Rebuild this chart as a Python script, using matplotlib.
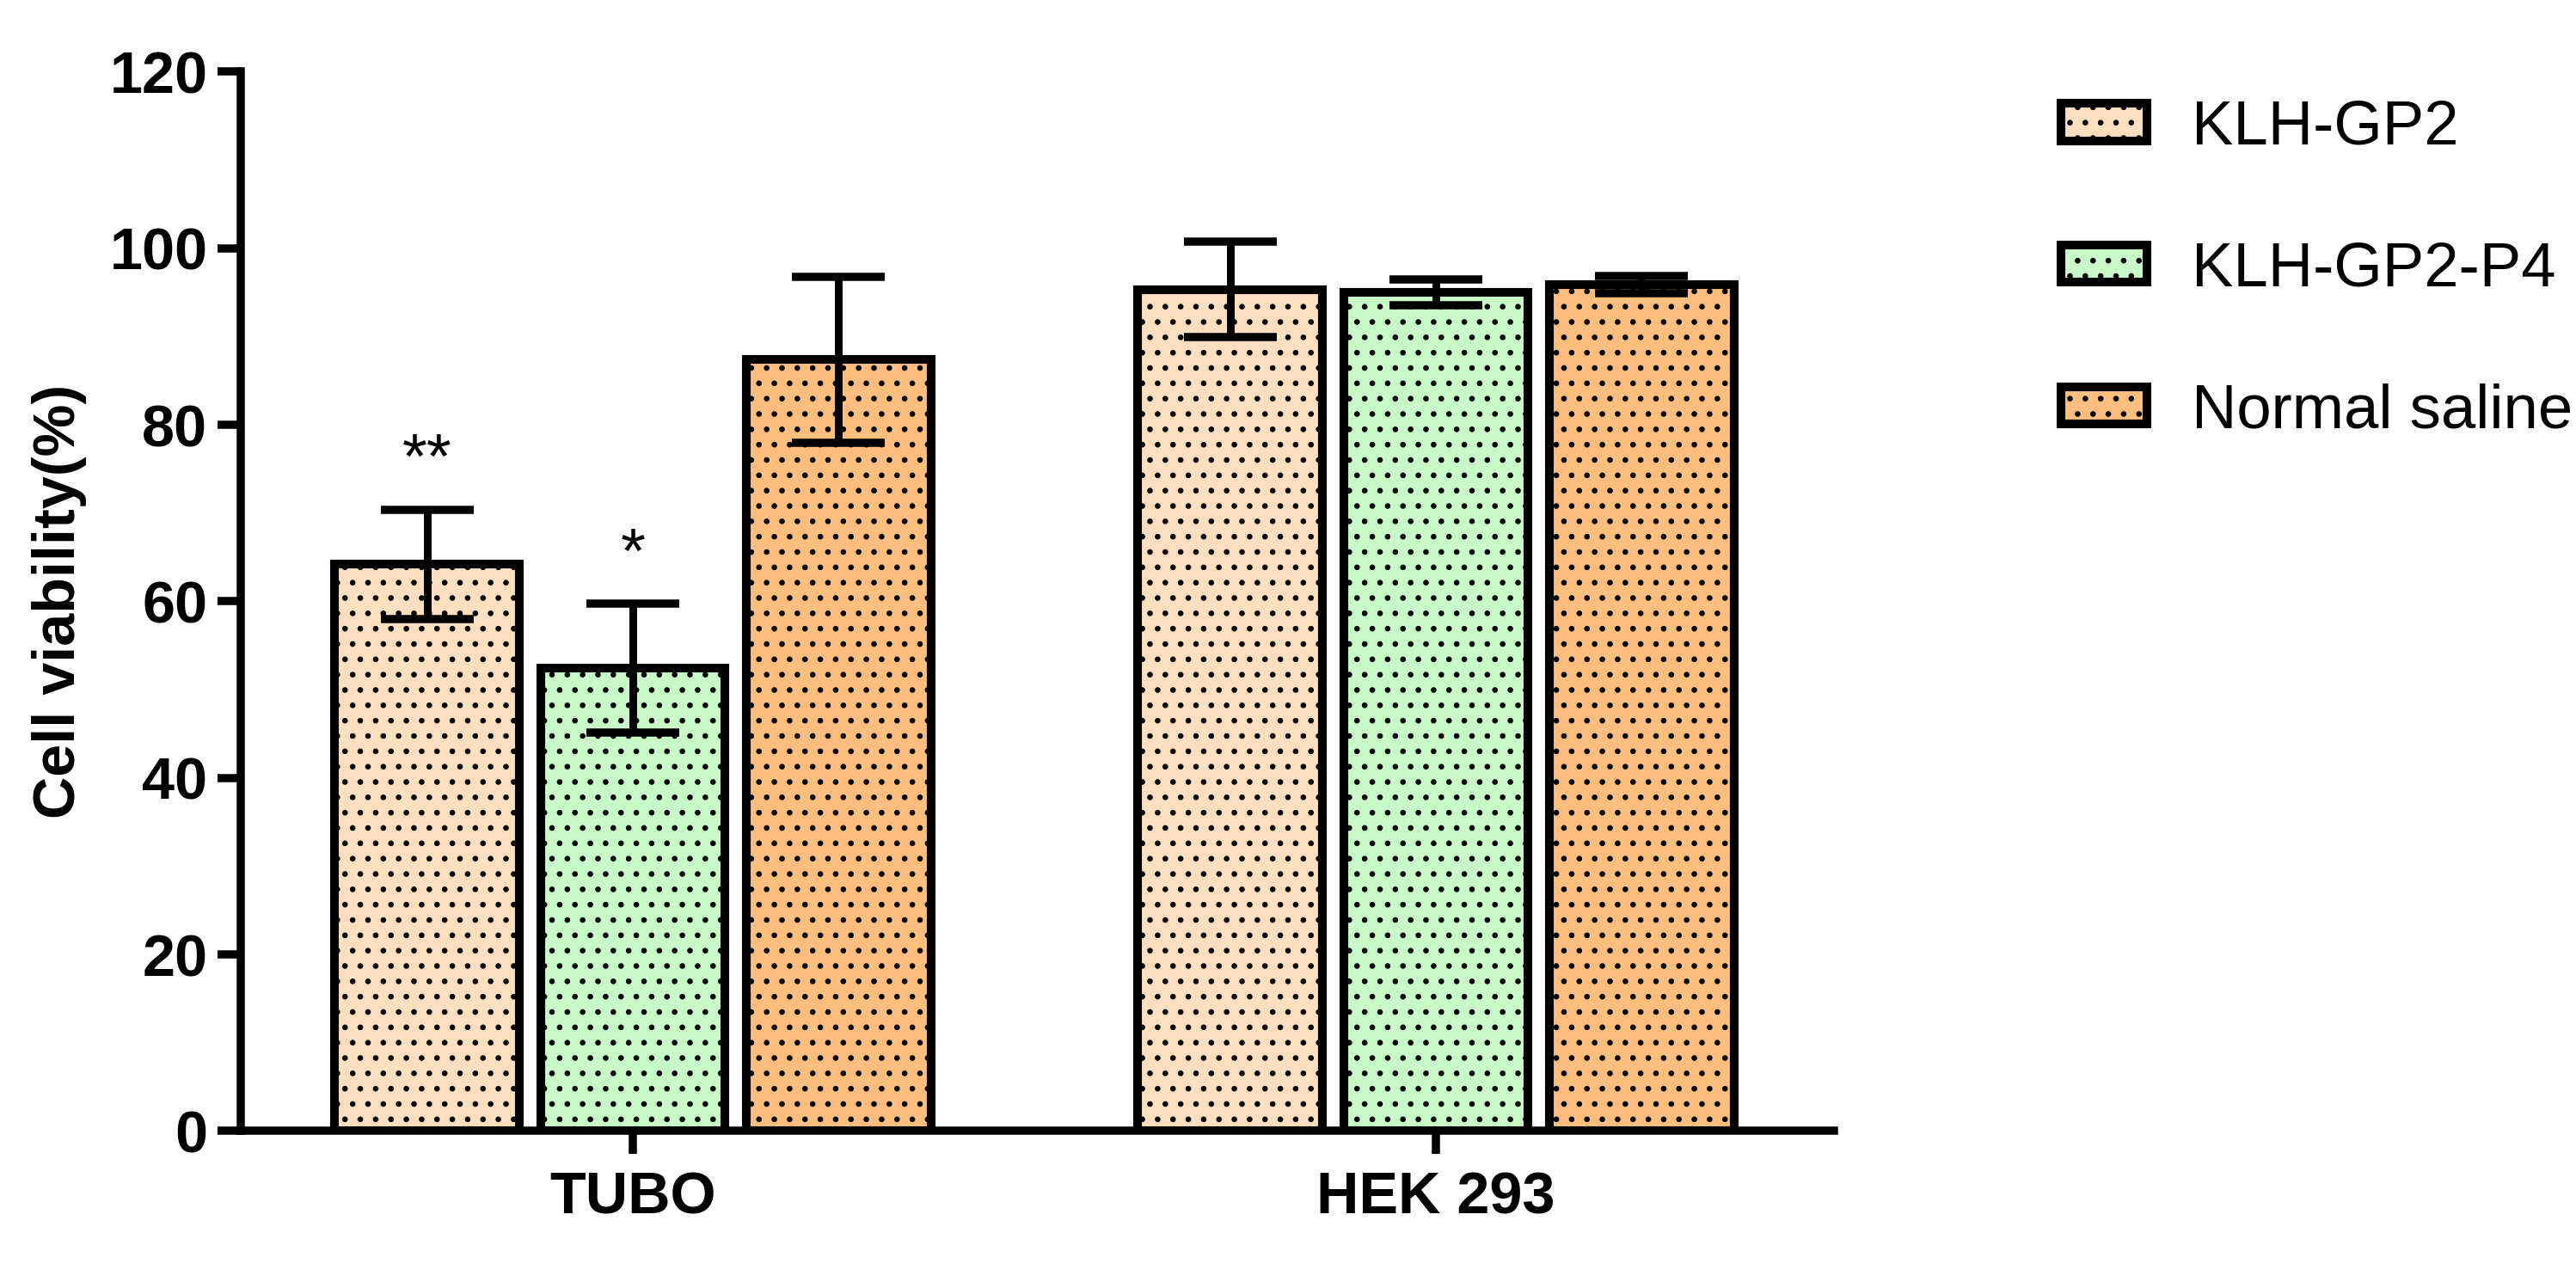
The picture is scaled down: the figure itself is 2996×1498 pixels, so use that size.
import matplotlib
matplotlib.use('Agg')
import matplotlib.pyplot as plt
import numpy as np

# cell lines on the x axis
groups = ['TUBO', 'HEK 293']

# treatments (legend order)
series = ['KLH-GP2', 'KLH-GP2-P4', 'Normal saline']

# mean viability (%) and error per cell line
klh_gp2_mean = [64.2, 95.3]
klh_gp2_err = [6.2, 5.4]
klh_gp2_p4_mean = [52.4, 95.0]
klh_gp2_p4_err = [7.3, 1.5]
saline_mean = [87.4, 95.9]
saline_err = [9.4, 1.0]

# significance marks per cell line
klh_gp2_sig = ['**', '']
klh_gp2_p4_sig = ['*', '']
saline_sig = ['', '']

colors = ['#FFDFBF', '#C9FBC9', '#FDBE7E']

plt.rcParams['font.family'] = ['Liberation Sans', 'DejaVu Sans']
plt.rcParams['hatch.linewidth'] = 1.0
plt.rcParams['hatch.color'] = 'black'

fig = plt.figure(figsize=(14, 7), dpi=214)
ax = fig.add_axes([0.09346, 0.12183, 0.71195 - 0.09346, 0.94439 - 0.12183])

x = np.arange(len(groups))
width = 0.230
step = 0.256

means = [klh_gp2_mean, klh_gp2_p4_mean, saline_mean]
errs = [klh_gp2_err, klh_gp2_p4_err, saline_err]
sigs = [klh_gp2_sig, klh_gp2_p4_sig, saline_sig]

for i, name in enumerate(series):
    pos = x + (i - 1) * step
    ax.bar(pos, means[i], width, color=colors[i], edgecolor='black',
           linewidth=3.4, hatch='..', label=name, zorder=2)
    ax.errorbar(pos, means[i], yerr=errs[i], fmt='none', ecolor='black',
                elinewidth=3.0, capsize=18.3, capthick=3.2, zorder=3)
    # stars above the error bars
    for p, m, e, s in zip(pos, means[i], errs[i], sigs[i]):
        if s:
            ax.text(p, m + e + 3.6, s, ha='center', va='baseline',
                    fontsize=25)

ax.set_xlim(-0.4882, 1.4957)
ax.set_ylim(0, 120)
ax.set_yticks(np.arange(0, 121, 20))
ax.set_xticks(x, groups, fontweight='bold')
for lab in ax.get_yticklabels():
    lab.set_fontweight('bold')

ax.spines['top'].set_visible(False)
ax.spines['right'].set_visible(False)
ax.spines['left'].set_linewidth(3.2)
ax.spines['bottom'].set_linewidth(3.2)
ax.tick_params(width=3.2, length=9, labelsize=23)
ax.tick_params(axis='y', pad=4)
ax.tick_params(axis='x', pad=6.5)

ax.set_ylabel('Cell viability(%)', fontsize=23, fontweight='bold',
              labelpad=9)

ax.legend(loc='upper left', bbox_to_anchor=(0.8002, 0.923),
          bbox_transform=fig.transFigure, frameon=False, fontsize=24.4,
          handlelength=1.37, handleheight=0.55, handletextpad=0.72,
          labelspacing=1.35, borderpad=0, borderaxespad=0)

fig.savefig('out.png', dpi=214)
